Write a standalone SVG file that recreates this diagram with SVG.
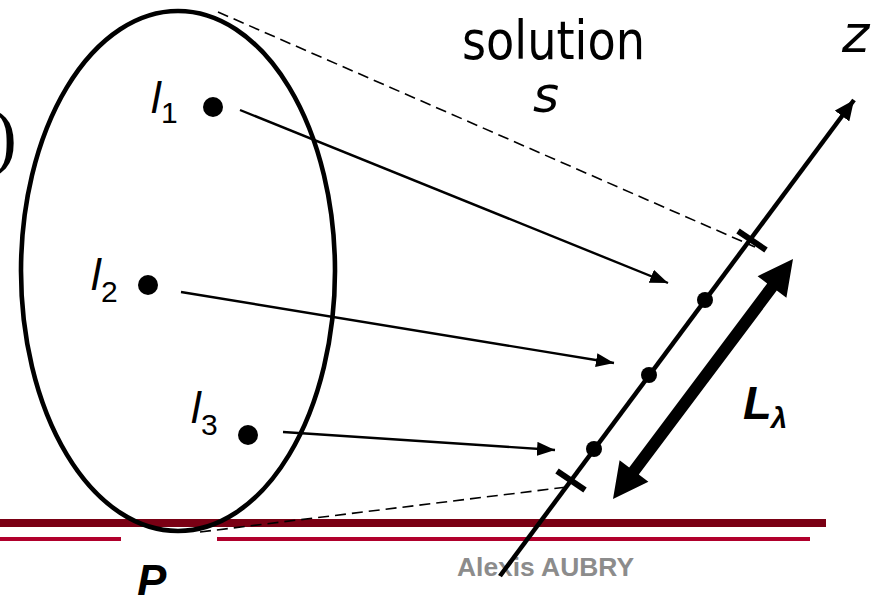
<svg xmlns="http://www.w3.org/2000/svg" width="875" height="595" viewBox="0 0 875 595">
<style>
.lab{font-family:"Liberation Sans",Arial,sans-serif;font-style:italic;fill:#000}
.sub{font-family:"Liberation Sans",Arial,sans-serif;fill:#000;font-size:30px}
.tah{font-family:"DejaVu Sans",Verdana,sans-serif;fill:#000}
.thin{stroke:#000;stroke-width:2.4;fill:none}
.dash{stroke:#000;stroke-width:1.6;fill:none;stroke-dasharray:11 6}
.tick{stroke:#000;stroke-width:6;fill:none}
</style>
<defs>
<marker id="ah" markerUnits="userSpaceOnUse" markerWidth="20" markerHeight="14" refX="18" refY="7" orient="auto">
<path d="M0,0 L18,7 L0,14 Z" fill="#000"/>
</marker>
<marker id="ahz" markerUnits="userSpaceOnUse" markerWidth="22" markerHeight="18" refX="20" refY="9" orient="auto">
<path d="M0,0 L20,9 L0,18 Z" fill="#000"/>
</marker>
</defs>
<rect width="875" height="595" fill="#fff"/>
<g id="footer">
<rect x="0" y="519" width="826" height="8" fill="#7a0014"/>
<rect x="0" y="537" width="121" height="4" fill="#b0002c"/>
<rect x="217" y="537" width="593" height="4" fill="#b0002c"/>
<text x="457" y="576" font-family="Liberation Sans,Arial,sans-serif" font-weight="bold" font-size="26" fill="#8c8c8c" textLength="177" lengthAdjust="spacingAndGlyphs">Alexis AUBRY</text>
</g>
<text x="-8" y="161" font-family="Liberation Serif,serif" font-size="75">)</text>
<g id="P">
<ellipse cx="178" cy="271" rx="157" ry="260" fill="none" stroke="#000" stroke-width="4.6"/>
<text x="137" y="596" class="lab" font-weight="bold" font-size="44">P</text>
</g>
<g id="l1">
<circle cx="213" cy="107" r="10"/>
<text x="151" y="113" class="lab" font-size="44">l</text>
<text x="161" y="123" class="sub">1</text>
</g>
<g id="l2">
<circle cx="148" cy="285" r="10"/>
<text x="91" y="290" class="lab" font-size="44">l</text>
<text x="101" y="302" class="sub">2</text>
</g>
<g id="l3">
<circle cx="248" cy="435" r="10"/>
<text x="191" y="423" class="lab" font-size="44">l</text>
<text x="201" y="435" class="sub">3</text>
</g>
<g id="labels">
<text x="462" y="59" class="tah" font-size="53" textLength="183" lengthAdjust="spacingAndGlyphs">solution</text>
<text x="533" y="112" class="tah" font-style="italic" font-size="50">s</text>
<text x="842" y="52" class="tah" font-style="italic" font-size="52">z</text>
<text x="743" y="419" class="lab" font-weight="bold" font-size="47">L</text>
<text x="771" y="428" class="lab" font-weight="bold" font-size="29">λ</text>
</g>
<g id="connectors">
<line x1="218" y1="12" x2="755" y2="247" class="dash"/>
<line x1="200" y1="532" x2="567" y2="487" class="dash"/>
<line x1="240" y1="110" x2="668" y2="283" class="thin" marker-end="url(#ah)"/>
<line x1="181" y1="292" x2="614" y2="363" class="thin" marker-end="url(#ah)"/>
<line x1="283" y1="432" x2="555" y2="450" class="thin" marker-end="url(#ah)"/>
</g>
<g id="axis">
<line x1="500" y1="576" x2="854" y2="100" stroke="#000" stroke-width="4.5" marker-end="url(#ahz)"/>
<line x1="738" y1="231" x2="766" y2="250" class="tick"/>
<line x1="557" y1="471" x2="585" y2="490" class="tick"/>
<circle cx="594" cy="449" r="8"/>
<circle cx="649" cy="375" r="8"/>
<circle cx="705" cy="300" r="8"/>
</g>
<g id="L-arrow">
<polygon points="613,499 648.4,481.8 638.8,474.6 776.8,290.6 786.4,297.8 793,259 757.6,276.2 767.2,283.4 629.2,467.4 619.6,460.2" fill="#000"/>
</g>
</svg>
